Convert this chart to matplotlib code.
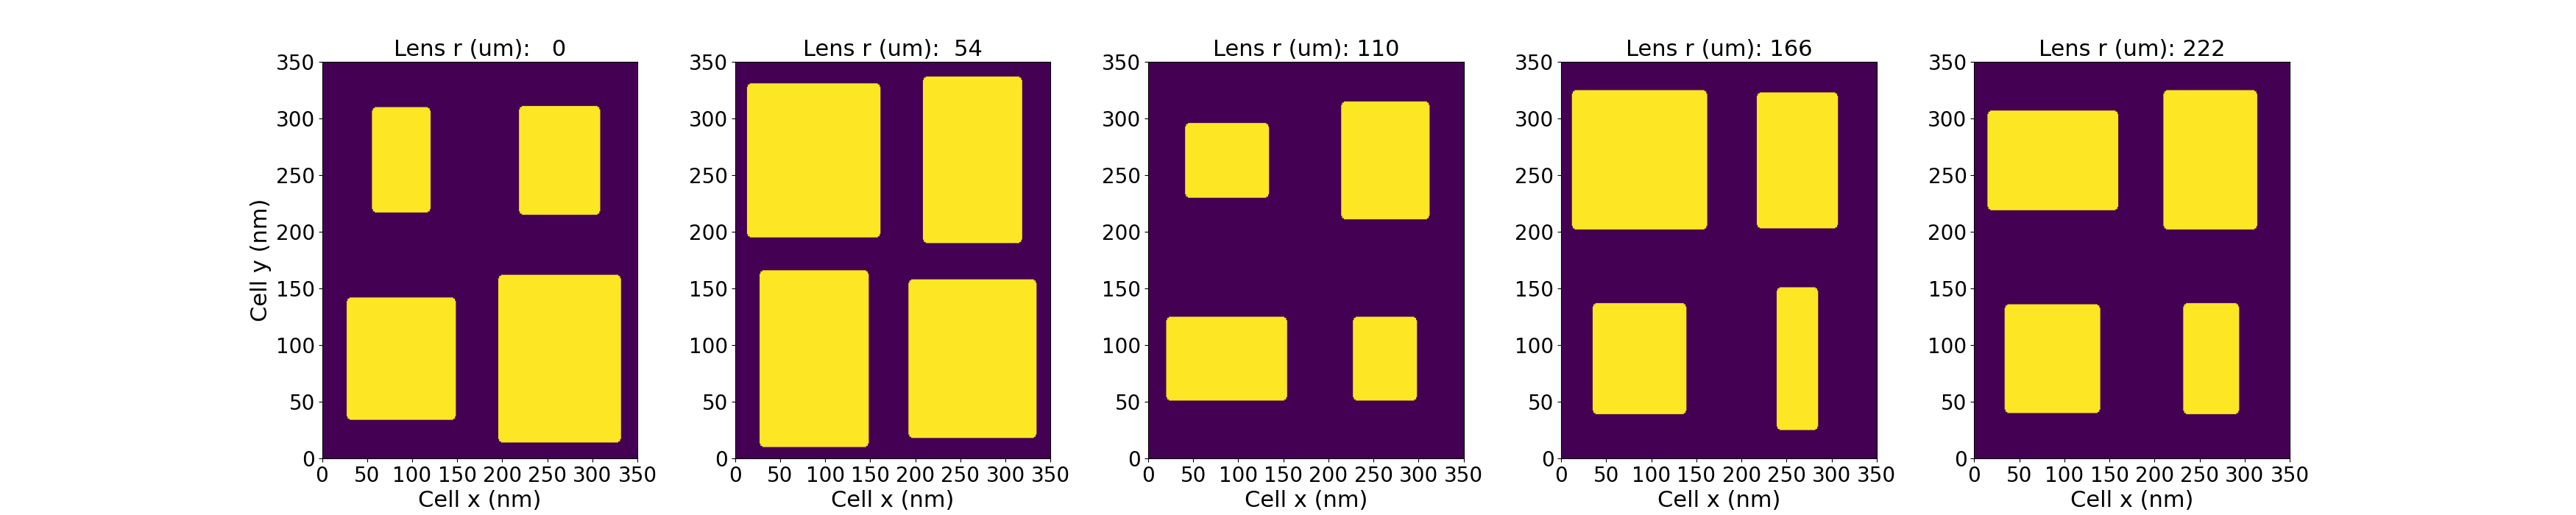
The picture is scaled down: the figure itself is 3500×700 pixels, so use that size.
import numpy as np
import matplotlib
matplotlib.use("Agg")
import matplotlib.pyplot as plt

plt.rcParams['font.size'] = 22
plt.rcParams['axes.titlesize'] = 22
plt.rcParams['axes.labelsize'] = 22
plt.rcParams['xtick.labelsize'] = 20
plt.rcParams['ytick.labelsize'] = 20

lens_radii = [0, 54, 110, 166, 222]

# rectangles per panel: [x0, x1, y0, y1] in nm
rects_r0 = [[55, 120, 217, 310], [218, 308, 215, 311], [27, 148, 34, 142], [195, 331, 14, 162]]
rects_r54 = [[13, 161, 195, 331], [208, 318, 190, 337], [27, 148, 10, 166], [192, 334, 18, 158]]
rects_r110 = [[41, 134, 230, 296], [214, 312, 211, 315], [20, 154, 51, 125], [227, 298, 51, 125]]
rects_r166 = [[12, 162, 202, 325], [217, 307, 203, 323], [35, 139, 39, 137], [239, 285, 25, 151]]
rects_r222 = [[15, 160, 219, 307], [210, 314, 202, 325], [34, 140, 40, 136], [232, 294, 39, 137]]
panel_rects = [rects_r0, rects_r54, rects_r110, rects_r166, rects_r222]

cell_size = 350
corner = 5.0
ticks = [0, 50, 100, 150, 200, 250, 300, 350]

xc = np.arange(cell_size) + 0.5
X, Y = np.meshgrid(xc, xc)


def rounded_rect_mask(x0, x1, y0, y1, r):
    cx = np.clip(X, x0 + r, x1 - r)
    cy = np.clip(Y, y0 + r, y1 - r)
    return ((X - cx) ** 2 + (Y - cy) ** 2 <= r ** 2) & (X >= x0) & (X <= x1) & (Y >= y0) & (Y <= y1)


fig, axes = plt.subplots(1, 5, figsize=(35, 7), dpi=100)
for i, (ax, rad, rects) in enumerate(zip(axes, lens_radii, panel_rects)):
    img = np.zeros((cell_size, cell_size))
    for (x0, x1, y0, y1) in rects:
        img[rounded_rect_mask(x0, x1, y0, y1, corner)] = 1.0
    ax.imshow(img, origin='lower', extent=[0, cell_size, 0, cell_size],
              cmap='viridis', vmin=0, vmax=1, aspect=1.2573)
    ax.set_anchor('W')
    ax.set_xticks(ticks)
    ax.set_yticks(ticks)
    ax.set_title(f"Lens r (um): {rad:3d}")
    ax.set_xlabel("Cell x (nm)")
    if i == 0:
        ax.set_ylabel("Cell y (nm)")

fig.savefig("out.png", dpi=100)
